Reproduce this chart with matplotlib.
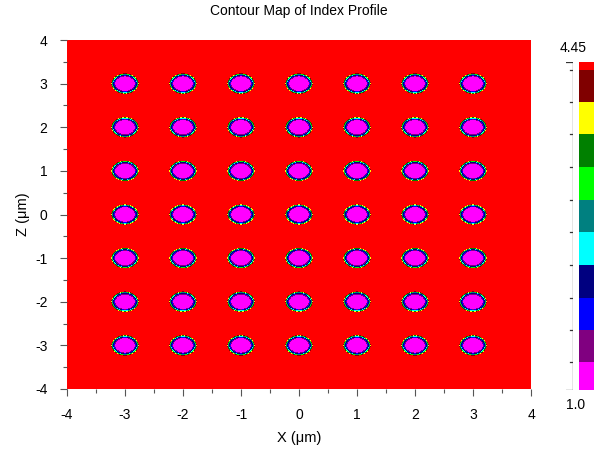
import numpy as np
import matplotlib
matplotlib.use("Agg")
import matplotlib.pyplot as plt
from matplotlib.colors import ListedColormap, BoundaryNorm
from matplotlib.ticker import MultipleLocator

plt.rcParams['font.family'] = ['Liberation Sans', 'DejaVu Sans']
plt.rcParams['axes.unicode_minus'] = False

# hole lattice (um) and refractive indices
hole_x = [-3, -2, -1, 0, 1, 2, 3]
hole_z = [-3, -2, -1, 0, 1, 2, 3]
hole_r = 0.175
edge_w = 0.07
n_bg = 4.45
n_hole = 1.0

levels = [1.0, 1.29, 1.63, 1.97, 2.32, 2.66, 3.0, 3.35, 3.69, 4.03, 4.37, 4.45]
colors = ['#FF00FF', '#800080', '#0000FF', '#000080', '#00FFFF', '#008080',
          '#00FF00', '#008000', '#FFFF00', '#800000', '#FF0000']

# graded wall of each hole: fraction of wall thickness vs index
wall_pos = [0, .25, .29, .58, .60, .76, .78, .93, .95, .98, 1.0]
wall_n = [1.3, 1.63, 1.97, 2.32, 2.66, 3.0, 3.35, 3.69, 4.03, 4.37, 4.45]

# index profile on the simulation grid
x = np.arange(-4, 4.0001, 0.008)
z = np.arange(-4, 4.0001, 0.008)
X, Z = np.meshgrid(x, z)
n = np.full_like(X, n_bg)
for cx in hole_x:
    for cz in hole_z:
        near = (np.abs(X - cx) < 0.4) & (np.abs(Z - cz) < 0.4)
        r = np.hypot(X[near] - cx, Z[near] - cz)
        f = np.clip((r - hole_r) / edge_w, 0, 1)
        prof = np.where(r < hole_r, n_hole, np.interp(f, wall_pos, wall_n))
        n[near] = np.minimum(n[near], prof)

cmap = ListedColormap(colors)
norm = BoundaryNorm(levels, cmap.N)

fig = plt.figure(figsize=(5.94, 4.57), dpi=100)
ax = fig.add_axes([67 / 594, 1 - 389 / 457, 464 / 594, 349 / 457])
ax.contourf(X, Z, n, levels=levels, cmap=cmap, norm=norm)
ax.set_xlim(-4, 4)
ax.set_ylim(-4, 4)
for s in ax.spines.values():
    s.set_visible(False)
ax.xaxis.set_major_locator(MultipleLocator(1))
ax.yaxis.set_major_locator(MultipleLocator(1))
ax.xaxis.set_minor_locator(MultipleLocator(0.5))
ax.yaxis.set_minor_locator(MultipleLocator(0.5))
ax.tick_params(which='major', direction='out', length=5, width=0.8,
               color='#555555', labelsize=10, pad=9)
ax.tick_params(which='minor', direction='out', length=3, width=0.8,
               color='#555555')
ax.set_xlabel('X (\u03bcm)', fontsize=10.5, labelpad=6)
ax.set_ylabel('Z (\u03bcm)', fontsize=10.5, labelpad=4)
ax.set_title('Contour Map of Index Profile', fontsize=10, pad=18)

# colour legend
cax = fig.add_axes([579 / 594, 1 - 390 / 457, 20 / 594, 328 / 457])
cax.pcolormesh([0, 1], levels, np.array(levels[:-1])[:, None] + 1e-6,
               cmap=cmap, norm=norm)
cax.set_xlim(0, 1)
cax.set_ylim(levels[0], levels[-1])
cax.set_axis_off()

# bracket with ticks to the left of the legend
lax = fig.add_axes([566 / 594, 1 - 390 / 457, 7 / 594, 328 / 457])
lax.set_xlim(0, 1)
lax.set_ylim(levels[0], levels[-1])
lax.set_axis_off()
lax.plot([1, 1], [levels[0], levels[-1]], color='#333333', lw=0.9)
lax.plot([0, 1], [levels[0], levels[0]], color='#333333', lw=0.9)
lax.plot([0, 1], [levels[-1], levels[-1]], color='#333333', lw=0.9)
for v in levels[1:-1]:
    lax.plot([0.5, 1], [v, v], color='#333333', lw=0.9)

fig.text(573 / 594, 1 - 48 / 457, f'{n_bg:.2f}', fontsize=10,
         ha='center', va='center')
fig.text(576 / 594, 1 - 405 / 457, f'{n_hole:.1f}', fontsize=10,
         ha='center', va='center')

fig.savefig('out.png', dpi=100)
